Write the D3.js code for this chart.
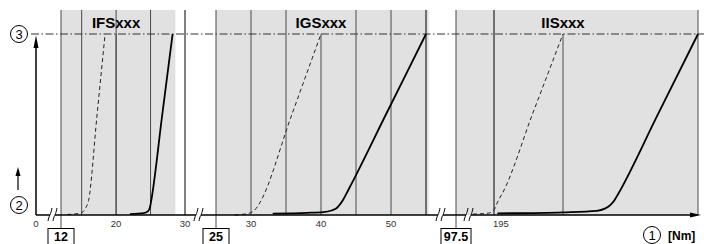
<!DOCTYPE html>
<html><head><meta charset="utf-8">
<script src="https://cdn.jsdelivr.net/npm/d3@7"></script>
<style>body{margin:0;background:#fff}svg{display:block;font-family:"Liberation Sans",Arial,sans-serif}</style>
</head><body><svg id="c" width="704" height="244"></svg>
<script>
// ---- data ----
const panelNames = ["IFSxxx", "IGSxxx", "IISxxx"];
const markers = [12, 25, 97.5];
const axisDomains = [[0, 12, 30], [25, 55], [97.5, 195, 300, 500]];
const shadedSpans = [[12, 28.6], [25, 55.4], [97.5, 500]];
const gridLines = [[15, 20, 25], [30, 35, 45, 50], [500]];
const titleLines = [20, 40, 300];
const darkLines = [[30], [55], [195]];
const tickLabels = [[0, 20, 30], [30, 40, 50], [195]];
const dashedCurves = [
  [[12.9, 0.3], [14.5, 0.8], [15.2, 1.8], [15.6, 4], [16.0, 8], [17.2, 54], [18.4, 100]],
  [[27.7, 0], [29.5, 0.8], [30.3, 2], [30.9, 4.5], [31.3, 7], [35.65, 53.5], [40, 100]],
  [[141, 0.5], [180, 1], [195, 2.8], [199, 6], [203, 9], [207, 11.5], [253.5, 55.7], [300, 100]]
];
const solidCurves = [
  [[22, 0.5], [24, 1], [24.6, 2], [24.9, 4], [25.1, 8], [26.65, 54], [28.2, 100]],
  [[33.1, 0.8], [38, 1.2], [40.3, 1.6], [41.5, 2.5], [42.3, 4], [43.1, 8], [43.9, 13.8], [49.45, 56.9], [55, 100]],
  [[200, 0.9], [300, 1.5], [350, 2.3], [362, 3.5], [370, 5.5], [376, 8], [380, 10.5], [440, 55.2], [500, 100]]
];
const yLimitLabel = "3", yBaseLabel = "2", xLabelNum = "1", xUnit = "[Nm]";

// ---- layout ----
const svg = d3.select("#c");
const axisY = 215, topY = 10;
const y = d3.scaleLinear().domain([0, 100]).range([axisY, 34]);
const ranges = [[36, 61, 185], [216, 426], [456, 494, 563, 698]];
const xs = axisDomains.map((d, i) => d3.scaleLinear().domain(d).range(ranges[i]));
const grey = "#e1e1e1";

// shaded panels
shadedSpans.forEach((s, i) => {
  svg.append("rect").attr("x", xs[i](s[0])).attr("y", topY)
    .attr("width", xs[i](s[1]) - xs[i](s[0])).attr("height", axisY - topY).attr("fill", grey);
});
// grid lines
gridLines.forEach((g, i) => g.forEach(v => {
  svg.append("line").attr("x1", xs[i](v)).attr("x2", xs[i](v)).attr("y1", topY).attr("y2", axisY)
    .attr("stroke", "#4a4a4a").attr("stroke-width", 1);
}));
titleLines.forEach((v, i) => {
  svg.append("line").attr("x1", xs[i](v)).attr("x2", xs[i](v)).attr("y1", y(100)).attr("y2", axisY)
    .attr("stroke", "#4a4a4a").attr("stroke-width", 1);
});
darkLines.forEach((g, i) => g.forEach(v => {
  svg.append("line").attr("x1", xs[i](v)).attr("x2", xs[i](v)).attr("y1", topY).attr("y2", axisY)
    .attr("stroke", "#000").attr("stroke-width", 1);
}));
// marker lines + boxes
markers.forEach((m, i) => {
  const x = xs[i](m);
  svg.append("line").attr("x1", x).attr("x2", x).attr("y1", topY).attr("y2", 228)
    .attr("stroke", "#4a4a4a").attr("stroke-width", 1);
  const w = String(m).length > 2 ? 30 : 26;
  svg.append("rect").attr("x", x - w / 2).attr("y", 228.5).attr("width", w).attr("height", 20)
    .attr("fill", "#fff").attr("stroke", "#000").attr("stroke-width", 1);
  svg.append("text").attr("x", x).attr("y", 241).attr("text-anchor", "middle")
    .attr("font-size", 12.5).attr("font-weight", "bold").text(m);
});
// titles
panelNames.forEach((n, i) => {
  svg.append("text").attr("x", xs[i](titleLines[i])).attr("y", 28)
    .attr("text-anchor", "middle").attr("font-size", 15).attr("font-weight", "bold").text(n);
});
// limit line
svg.append("line").attr("x1", 31).attr("x2", 704).attr("y1", y(100)).attr("y2", y(100))
  .attr("stroke", "#333").attr("stroke-width", 1).attr("stroke-dasharray", "8,2.5,1.5,2.5");

// curves
const line = (sc) => d3.line().x(d => sc(d[0])).y(d => y(d[1])).curve(d3.curveMonotoneX);
dashedCurves.forEach((c, i) => {
  svg.append("path").attr("d", line(xs[i])(c)).attr("fill", "none").attr("stroke", "#222")
    .attr("stroke-width", 1).attr("stroke-dasharray", "4,3");
});
solidCurves.forEach((c, i) => {
  svg.append("path").attr("d", line(xs[i])(c)).attr("fill", "none").attr("stroke", "#000")
    .attr("stroke-width", 1.8);
});

// x axis with breaks
const breaks = [52.5, 198.5, 440.5, 468.5];
const segs = [];
let start = 36;
breaks.forEach(b => { segs.push([start, b - 2.5]); start = b + 2.5; });
segs.push([start, 692]);
segs.forEach(s => svg.append("line").attr("x1", s[0]).attr("x2", s[1]).attr("y1", axisY).attr("y2", axisY)
  .attr("stroke", "#000").attr("stroke-width", 1.5));
svg.append("path").attr("d", `M690,${axisY - 2.5}L701,${axisY}L690,${axisY + 2.5}Z`).attr("fill", "#000");
breaks.forEach(b => [-2.5, 2.5].forEach(o => {
  const x = b + o;
  svg.append("path").attr("d", `M${x - 2},${axisY + 6} C${x - 1},${axisY + 1} ${x},${axisY} ${x},${axisY} S${x + 1},${axisY - 2} ${x + 2},${axisY - 7}`)
    .attr("fill", "none").attr("stroke", "#000").attr("stroke-width", 1);
}));
// y axis
svg.append("line").attr("x1", 36).attr("x2", 36).attr("y1", axisY).attr("y2", 45)
  .attr("stroke", "#000").attr("stroke-width", 1.5);
svg.append("path").attr("d", `M33.5,48L36,35.5L38.5,48Z`).attr("fill", "#000");

// tick labels
tickLabels.forEach((t, i) => t.forEach(v => {
  const last = i === tickLabels.length - 1;
  svg.append("text").attr("x", xs[i](v) - (last ? 1 : 0)).attr("y", 227)
    .attr("text-anchor", last ? "start" : "middle")
    .attr("font-size", 9.5).attr("fill", "#333").text(v);
}));

// circled labels
function circ(cx, cy, txt) {
  svg.append("circle").attr("cx", cx).attr("cy", cy).attr("r", 8.5).attr("fill", "#fff")
    .attr("stroke", "#000").attr("stroke-width", 1);
  svg.append("text").attr("x", cx).attr("y", cy + 4.5).attr("text-anchor", "middle")
    .attr("font-size", 13).text(txt);
}
circ(19, 34, yLimitLabel);
circ(19, 205, yBaseLabel);
circ(652, 235, xLabelNum);
svg.append("text").attr("x", 668).attr("y", 239.5).attr("font-size", 12).attr("font-weight", "bold").text(xUnit);
// small up arrow
svg.append("line").attr("x1", 18).attr("x2", 18).attr("y1", 190).attr("y2", 174)
  .attr("stroke", "#000").attr("stroke-width", 1.2);
svg.append("path").attr("d", "M15.5,176L18,167L20.5,176Z").attr("fill", "#000");
</script></body></html>
